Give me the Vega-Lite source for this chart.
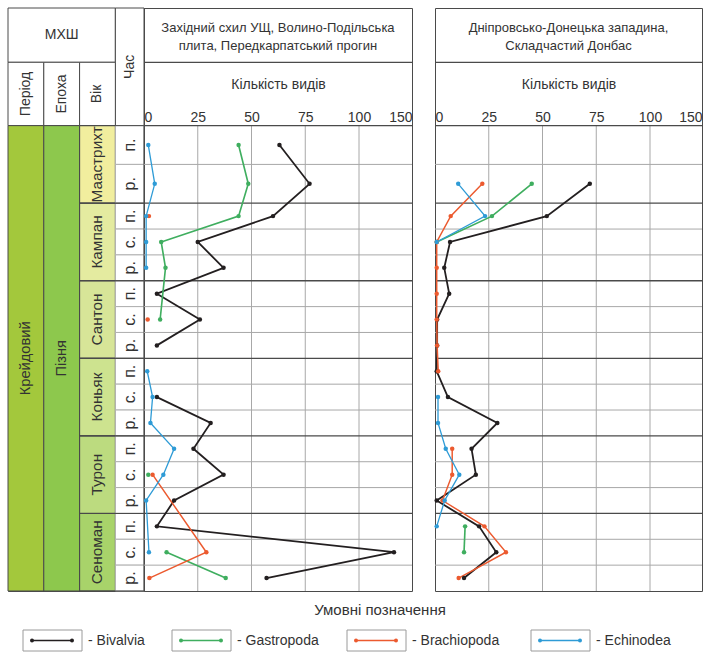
{
  "$schema": "https://vega.github.io/schema/vega-lite/v6.json",
  "padding": {"left": 7, "top": 7, "right": 0, "bottom": 0},
  "background": "white",
  "config": {
    "font": "Liberation Sans",
    "view": {"stroke": "#4a4a4a", "strokeWidth": 1}
  },
  "datasets": {
    "table": [
      {"kind": "hdr", "cell": "hdr", "x1": 0, "x2": 3, "y1": -9.1, "y2": -4.9, "label": "МХШ", "tx": 1.5, "ty": -7, "rot": 0},
      {"kind": "hdr", "cell": "hdr", "x1": 3, "x2": 3.8, "y1": -9.1, "y2": 0, "label": "Час", "tx": 3.4, "ty": -4.55, "rot": 1},
      {"kind": "hdr", "cell": "hdr", "x1": 0, "x2": 1, "y1": -4.9, "y2": 0, "label": "Період", "tx": 0.5, "ty": -2.45, "rot": 1},
      {"kind": "hdr", "cell": "hdr", "x1": 1, "x2": 2, "y1": -4.9, "y2": 0, "label": "Епоха", "tx": 1.5, "ty": -2.45, "rot": 1},
      {"kind": "hdr", "cell": "hdr", "x1": 2, "x2": 3, "y1": -4.9, "y2": 0, "label": "Вік", "tx": 2.5, "ty": -2.45, "rot": 1},
      {"kind": "body", "cell": "period", "x1": 0, "x2": 1, "y1": 0, "y2": 36, "label": "Крейдовий", "tx": 0.5, "ty": 18, "rot": 1},
      {"kind": "body", "cell": "epoch", "x1": 1, "x2": 2, "y1": 0, "y2": 36, "label": "Пізня", "tx": 1.5, "ty": 18, "rot": 1},
      {"kind": "age", "cell": "Маастрихт", "x1": 2, "x2": 3, "y1": 0, "y2": 6, "label": "Маастрихт", "tx": 2.5, "ty": 3, "rot": 1},
      {"kind": "age", "cell": "Кампан", "x1": 2, "x2": 3, "y1": 6, "y2": 12, "label": "Кампан", "tx": 2.5, "ty": 9, "rot": 1},
      {"kind": "age", "cell": "Сантон", "x1": 2, "x2": 3, "y1": 12, "y2": 18, "label": "Сантон", "tx": 2.5, "ty": 15, "rot": 1},
      {"kind": "age", "cell": "Коньяк", "x1": 2, "x2": 3, "y1": 18, "y2": 24, "label": "Коньяк", "tx": 2.5, "ty": 21, "rot": 1},
      {"kind": "age", "cell": "Турон", "x1": 2, "x2": 3, "y1": 24, "y2": 30, "label": "Турон", "tx": 2.5, "ty": 27, "rot": 1},
      {"kind": "age", "cell": "Сеноман", "x1": 2, "x2": 3, "y1": 30, "y2": 36, "label": "Сеноман", "tx": 2.5, "ty": 33, "rot": 1},
      {"kind": "time", "cell": "time", "x1": 3, "x2": 3.8, "y1": 0, "y2": 3, "label": "п.", "tx": 3.4, "ty": 1.5, "rot": 1},
      {"kind": "time", "cell": "time", "x1": 3, "x2": 3.8, "y1": 3, "y2": 6, "label": "р.", "tx": 3.4, "ty": 4.5, "rot": 1},
      {"kind": "time", "cell": "time", "x1": 3, "x2": 3.8, "y1": 6, "y2": 8, "label": "п.", "tx": 3.4, "ty": 7, "rot": 1},
      {"kind": "time", "cell": "time", "x1": 3, "x2": 3.8, "y1": 8, "y2": 10, "label": "с.", "tx": 3.4, "ty": 9, "rot": 1},
      {"kind": "time", "cell": "time", "x1": 3, "x2": 3.8, "y1": 10, "y2": 12, "label": "р.", "tx": 3.4, "ty": 11, "rot": 1},
      {"kind": "time", "cell": "time", "x1": 3, "x2": 3.8, "y1": 12, "y2": 14, "label": "п.", "tx": 3.4, "ty": 13, "rot": 1},
      {"kind": "time", "cell": "time", "x1": 3, "x2": 3.8, "y1": 14, "y2": 16, "label": "с.", "tx": 3.4, "ty": 15, "rot": 1},
      {"kind": "time", "cell": "time", "x1": 3, "x2": 3.8, "y1": 16, "y2": 18, "label": "р.", "tx": 3.4, "ty": 17, "rot": 1},
      {"kind": "time", "cell": "time", "x1": 3, "x2": 3.8, "y1": 18, "y2": 20, "label": "п.", "tx": 3.4, "ty": 19, "rot": 1},
      {"kind": "time", "cell": "time", "x1": 3, "x2": 3.8, "y1": 20, "y2": 22, "label": "с.", "tx": 3.4, "ty": 21, "rot": 1},
      {"kind": "time", "cell": "time", "x1": 3, "x2": 3.8, "y1": 22, "y2": 24, "label": "р.", "tx": 3.4, "ty": 23, "rot": 1},
      {"kind": "time", "cell": "time", "x1": 3, "x2": 3.8, "y1": 24, "y2": 26, "label": "п.", "tx": 3.4, "ty": 25, "rot": 1},
      {"kind": "time", "cell": "time", "x1": 3, "x2": 3.8, "y1": 26, "y2": 28, "label": "с.", "tx": 3.4, "ty": 27, "rot": 1},
      {"kind": "time", "cell": "time", "x1": 3, "x2": 3.8, "y1": 28, "y2": 30, "label": "р.", "tx": 3.4, "ty": 29, "rot": 1},
      {"kind": "time", "cell": "time", "x1": 3, "x2": 3.8, "y1": 30, "y2": 32, "label": "п.", "tx": 3.4, "ty": 31, "rot": 1},
      {"kind": "time", "cell": "time", "x1": 3, "x2": 3.8, "y1": 32, "y2": 34, "label": "с.", "tx": 3.4, "ty": 33, "rot": 1},
      {"kind": "time", "cell": "time", "x1": 3, "x2": 3.8, "y1": 34, "y2": 36, "label": "р.", "tx": 3.4, "ty": 35, "rot": 1}
    ],
    "hl": [
      {"y": -4.9, "k": "hdr"}, {"y": 0, "k": "stage"}, {"y": 6, "k": "stage"}, {"y": 12, "k": "stage"},
      {"y": 18, "k": "stage"}, {"y": 24, "k": "stage"}, {"y": 30, "k": "stage"},
      {"y": 3, "k": "sub"}, {"y": 8, "k": "sub"}, {"y": 10, "k": "sub"}, {"y": 14, "k": "sub"},
      {"y": 16, "k": "sub"}, {"y": 20, "k": "sub"}, {"y": 22, "k": "sub"}, {"y": 26, "k": "sub"},
      {"y": 28, "k": "sub"}, {"y": 32, "k": "sub"}, {"y": 34, "k": "sub"}
    ],
    "grid": [{"n": 25}, {"n": 50}, {"n": 75}, {"n": 100}],
    "series": [
      {"p": "W", "sp": "Bivalvia", "seg": "a", "pos": 1.5, "n": 63},
      {"p": "W", "sp": "Bivalvia", "seg": "a", "pos": 4.5, "n": 77},
      {"p": "W", "sp": "Bivalvia", "seg": "a", "pos": 7, "n": 60},
      {"p": "W", "sp": "Bivalvia", "seg": "a", "pos": 9, "n": 25},
      {"p": "W", "sp": "Bivalvia", "seg": "a", "pos": 11, "n": 37},
      {"p": "W", "sp": "Bivalvia", "seg": "a", "pos": 13, "n": 6},
      {"p": "W", "sp": "Bivalvia", "seg": "a", "pos": 15, "n": 26},
      {"p": "W", "sp": "Bivalvia", "seg": "a", "pos": 17, "n": 6},
      {"p": "W", "sp": "Bivalvia", "seg": "b", "pos": 21, "n": 6},
      {"p": "W", "sp": "Bivalvia", "seg": "b", "pos": 23, "n": 31},
      {"p": "W", "sp": "Bivalvia", "seg": "b", "pos": 25, "n": 23},
      {"p": "W", "sp": "Bivalvia", "seg": "b", "pos": 27, "n": 37},
      {"p": "W", "sp": "Bivalvia", "seg": "b", "pos": 29, "n": 14},
      {"p": "W", "sp": "Bivalvia", "seg": "b", "pos": 31, "n": 6},
      {"p": "W", "sp": "Bivalvia", "seg": "b", "pos": 33, "n": 133},
      {"p": "W", "sp": "Bivalvia", "seg": "b", "pos": 35, "n": 57},
      {"p": "W", "sp": "Gastropoda", "seg": "a", "pos": 1.5, "n": 44},
      {"p": "W", "sp": "Gastropoda", "seg": "a", "pos": 4.5, "n": 48.5},
      {"p": "W", "sp": "Gastropoda", "seg": "a", "pos": 7, "n": 44},
      {"p": "W", "sp": "Gastropoda", "seg": "a", "pos": 9, "n": 8},
      {"p": "W", "sp": "Gastropoda", "seg": "a", "pos": 11, "n": 10},
      {"p": "W", "sp": "Gastropoda", "seg": "a", "pos": 15, "n": 7.5},
      {"p": "W", "sp": "Gastropoda", "seg": "b", "pos": 27, "n": 2},
      {"p": "W", "sp": "Gastropoda", "seg": "c", "pos": 33, "n": 10.5},
      {"p": "W", "sp": "Gastropoda", "seg": "c", "pos": 35, "n": 38},
      {"p": "W", "sp": "Brachiopoda", "seg": "a", "pos": 7, "n": 2.3},
      {"p": "W", "sp": "Brachiopoda", "seg": "b", "pos": 15, "n": 1.7},
      {"p": "W", "sp": "Brachiopoda", "seg": "c", "pos": 27, "n": 4},
      {"p": "W", "sp": "Brachiopoda", "seg": "c", "pos": 33, "n": 29},
      {"p": "W", "sp": "Brachiopoda", "seg": "c", "pos": 35, "n": 2.5},
      {"p": "W", "sp": "Echinodea", "seg": "a", "pos": 1.5, "n": 2},
      {"p": "W", "sp": "Echinodea", "seg": "a", "pos": 4.5, "n": 5},
      {"p": "W", "sp": "Echinodea", "seg": "a", "pos": 7, "n": 1},
      {"p": "W", "sp": "Echinodea", "seg": "a", "pos": 9, "n": 1},
      {"p": "W", "sp": "Echinodea", "seg": "a", "pos": 11, "n": 1},
      {"p": "W", "sp": "Echinodea", "seg": "b", "pos": 19, "n": 1.5},
      {"p": "W", "sp": "Echinodea", "seg": "b", "pos": 21, "n": 4},
      {"p": "W", "sp": "Echinodea", "seg": "b", "pos": 23, "n": 3},
      {"p": "W", "sp": "Echinodea", "seg": "b", "pos": 25, "n": 14},
      {"p": "W", "sp": "Echinodea", "seg": "b", "pos": 27, "n": 9},
      {"p": "W", "sp": "Echinodea", "seg": "b", "pos": 29, "n": 1},
      {"p": "W", "sp": "Echinodea", "seg": "b", "pos": 33, "n": 2.3},
      {"p": "E", "sp": "Bivalvia", "seg": "a", "pos": 4.5, "n": 72},
      {"p": "E", "sp": "Bivalvia", "seg": "a", "pos": 7, "n": 52},
      {"p": "E", "sp": "Bivalvia", "seg": "a", "pos": 9, "n": 7},
      {"p": "E", "sp": "Bivalvia", "seg": "a", "pos": 11, "n": 4.3},
      {"p": "E", "sp": "Bivalvia", "seg": "a", "pos": 13, "n": 6.6},
      {"p": "E", "sp": "Bivalvia", "seg": "a", "pos": 15, "n": 1},
      {"p": "E", "sp": "Bivalvia", "seg": "a", "pos": 17, "n": 1},
      {"p": "E", "sp": "Bivalvia", "seg": "a", "pos": 19, "n": 0.8},
      {"p": "E", "sp": "Bivalvia", "seg": "a", "pos": 21, "n": 6},
      {"p": "E", "sp": "Bivalvia", "seg": "a", "pos": 23, "n": 29},
      {"p": "E", "sp": "Bivalvia", "seg": "a", "pos": 25, "n": 17},
      {"p": "E", "sp": "Bivalvia", "seg": "a", "pos": 27, "n": 19},
      {"p": "E", "sp": "Bivalvia", "seg": "a", "pos": 29, "n": 0.8},
      {"p": "E", "sp": "Bivalvia", "seg": "a", "pos": 31, "n": 20.5},
      {"p": "E", "sp": "Bivalvia", "seg": "a", "pos": 33, "n": 28.5},
      {"p": "E", "sp": "Bivalvia", "seg": "a", "pos": 35, "n": 13.5},
      {"p": "E", "sp": "Gastropoda", "seg": "a", "pos": 4.5, "n": 45},
      {"p": "E", "sp": "Gastropoda", "seg": "a", "pos": 7, "n": 26.5},
      {"p": "E", "sp": "Gastropoda", "seg": "a", "pos": 9, "n": 0.8},
      {"p": "E", "sp": "Gastropoda", "seg": "b", "pos": 31, "n": 14},
      {"p": "E", "sp": "Gastropoda", "seg": "b", "pos": 33, "n": 13.5},
      {"p": "E", "sp": "Brachiopoda", "seg": "a", "pos": 4.5, "n": 22},
      {"p": "E", "sp": "Brachiopoda", "seg": "a", "pos": 7, "n": 7.3},
      {"p": "E", "sp": "Brachiopoda", "seg": "a", "pos": 9, "n": 0.8},
      {"p": "E", "sp": "Brachiopoda", "seg": "a", "pos": 11, "n": 0.8},
      {"p": "E", "sp": "Brachiopoda", "seg": "a", "pos": 13, "n": 0.8},
      {"p": "E", "sp": "Brachiopoda", "seg": "a", "pos": 15, "n": 0.8},
      {"p": "E", "sp": "Brachiopoda", "seg": "a", "pos": 17, "n": 1},
      {"p": "E", "sp": "Brachiopoda", "seg": "a", "pos": 19, "n": 1.5},
      {"p": "E", "sp": "Brachiopoda", "seg": "b", "pos": 25, "n": 8},
      {"p": "E", "sp": "Brachiopoda", "seg": "b", "pos": 27, "n": 8},
      {"p": "E", "sp": "Brachiopoda", "seg": "b", "pos": 29, "n": 3.5},
      {"p": "E", "sp": "Brachiopoda", "seg": "b", "pos": 31, "n": 23},
      {"p": "E", "sp": "Brachiopoda", "seg": "b", "pos": 33, "n": 33},
      {"p": "E", "sp": "Brachiopoda", "seg": "b", "pos": 35, "n": 11},
      {"p": "E", "sp": "Echinodea", "seg": "a", "pos": 4.5, "n": 10.8},
      {"p": "E", "sp": "Echinodea", "seg": "a", "pos": 7, "n": 23.3},
      {"p": "E", "sp": "Echinodea", "seg": "a", "pos": 9, "n": 0.8},
      {"p": "E", "sp": "Echinodea", "seg": "b", "pos": 21, "n": 1.4},
      {"p": "E", "sp": "Echinodea", "seg": "b", "pos": 23, "n": 1.4},
      {"p": "E", "sp": "Echinodea", "seg": "b", "pos": 25, "n": 5},
      {"p": "E", "sp": "Echinodea", "seg": "b", "pos": 27, "n": 11.3},
      {"p": "E", "sp": "Echinodea", "seg": "b", "pos": 29, "n": 4.5},
      {"p": "E", "sp": "Echinodea", "seg": "b", "pos": 31, "n": 0.8}
    ],
    "leg": [
      {"i": 0, "sp": "Bivalvia", "lab": "- Bivalvia"},
      {"i": 1, "sp": "Gastropoda", "lab": "- Gastropoda"},
      {"i": 2, "sp": "Brachiopoda", "lab": "- Brachiopoda"},
      {"i": 3, "sp": "Echinodea", "lab": "- Echinodea"}
    ]
  },
  "vconcat": [
    {
      "hconcat": [
        {
          "hconcat": [
            {
              "width": 136,
              "height": 583,
              "data": {"name": "table"},
              "layer": [
                {
                  "transform": [{"filter": "datum.kind != 'time'"}],
                  "mark": {"type": "rect", "stroke": "#4a4a4a", "strokeWidth": 1},
                  "encoding": {
                    "x": {"field": "x1", "type": "quantitative", "scale": {"domain": [0, 3.8], "nice": false, "zero": false}, "axis": null},
                    "x2": {"field": "x2"},
                    "y": {"field": "y1", "type": "quantitative", "scale": {"domain": [-9.1, 36], "reverse": true, "nice": false, "zero": false}, "axis": null},
                    "y2": {"field": "y2"},
                    "fill": {"field": "cell", "type": "nominal", "legend": null,
                      "scale": {"domain": ["hdr", "period", "epoch", "Маастрихт", "Кампан", "Сантон", "Коньяк", "Турон", "Сеноман"],
                                "range": ["#ffffff", "#a3c83c", "#8dc84d", "#f1ee9e", "#e4eba0", "#d7e598", "#cde38f", "#bcdb7f", "#a8d36a"]}}
                  }
                },
                {
                  "transform": [{"filter": "datum.kind == 'time'"}],
                  "mark": {"type": "rect", "fill": "#ffffff", "stroke": "#b0b0b0", "strokeWidth": 1},
                  "encoding": {
                    "x": {"field": "x1", "type": "quantitative", "axis": null},
                    "x2": {"field": "x2"},
                    "y": {"field": "y1", "type": "quantitative", "axis": null},
                    "y2": {"field": "y2"}
                  }
                },
                {
                  "transform": [{"filter": "datum.kind == 'age'"}],
                  "mark": {"type": "rect", "fillOpacity": 0, "stroke": "#4a4a4a", "strokeWidth": 1},
                  "encoding": {
                    "x": {"datum": 2, "type": "quantitative", "axis": null},
                    "x2": {"datum": 3.8},
                    "y": {"field": "y1", "type": "quantitative", "axis": null},
                    "y2": {"field": "y2"}
                  }
                },
                {
                  "transform": [{"filter": "datum.rot == 0"}],
                  "mark": {"type": "text", "fontSize": 14, "fill": "#333333", "align": "center", "baseline": "middle"},
                  "encoding": {
                    "x": {"field": "tx", "type": "quantitative", "axis": null},
                    "y": {"field": "ty", "type": "quantitative", "axis": null},
                    "text": {"field": "label"}
                  }
                },
                {
                  "transform": [{"filter": "datum.rot == 1"}],
                  "mark": {"type": "text", "angle": 270, "fill": "#333333", "align": "center", "baseline": "middle"},
                  "encoding": {
                    "x": {"field": "tx", "type": "quantitative", "axis": null},
                    "y": {"field": "ty", "type": "quantitative", "axis": null},
                    "text": {"field": "label"},
                    "size": {"field": "kind", "type": "nominal", "legend": null,
                      "scale": {"domain": ["hdr", "body", "age", "time"], "range": [14, 16, 14.5, 11]}}
                  }
                }
              ]
            },
            {
              "width": 268,
              "height": 583,
              "layer": [
                {
                  "data": {"name": "hl"},
                  "transform": [{"filter": "datum.k == 'sub'"}],
                  "mark": {"type": "rule", "stroke": "#a8a8a8", "strokeWidth": 1},
                  "encoding": {
                    "y": {"field": "y", "type": "quantitative", "scale": {"domain": [-9.1, 36], "reverse": true, "nice": false, "zero": false}, "axis": null}
                  }
                },
                {
                  "data": {"name": "grid"},
                  "mark": {"type": "rule", "stroke": "#a8a8a8", "strokeWidth": 1},
                  "encoding": {
                    "x": {"field": "n", "type": "quantitative",
                      "scale": {"domain": [0, 100, 150], "range": [0, 215, 268], "nice": false, "zero": false},
                      "axis": {"orient": "top", "offset": -118, "values": [0, 25, 50, 75, 100, 150], "domain": false, "ticks": false, "grid": false, "labelFlush": true, "labelFontSize": 14, "labelColor": "#333333", "labelPadding": 2, "format": "d", "title": "Кількість видів", "titleFontSize": 14, "titleFontWeight": "normal", "titleColor": "#333333", "titlePadding": 19}},
                    "y": {"datum": 0, "type": "quantitative", "axis": null},
                    "y2": {"datum": 36}
                  }
                },
                {
                  "data": {"name": "hl"},
                  "transform": [{"filter": "datum.k != 'sub'"}],
                  "mark": {"type": "rule", "stroke": "#4a4a4a", "strokeWidth": 1.3},
                  "encoding": {
                    "y": {"field": "y", "type": "quantitative", "axis": null}
                  }
                },
                {
                  "data": {"values": [{"t": "Західний схил УЩ, Волино-Подільська\nплита, Передкарпатський прогин"}]},
                  "mark": {"type": "text", "fontSize": 13, "lineBreak": "\n", "lineHeight": 18, "fill": "#333333", "align": "center", "baseline": "middle"},
                  "encoding": {
                    "x": {"datum": 62.3, "type": "quantitative",
                      "axis": {"orient": "top", "offset": -118, "values": [0, 25, 50, 75, 100, 150], "domain": false, "ticks": false, "grid": false, "labelFlush": true, "labelFontSize": 14, "labelColor": "#333333", "labelPadding": 2, "format": "d", "title": "Кількість видів", "titleFontSize": 14, "titleFontWeight": "normal", "titleColor": "#333333", "titlePadding": 19}},
                    "y": {"datum": -7.55, "type": "quantitative", "axis": null},
                    "text": {"field": "t"}
                  }
                },
                {
                  "data": {"name": "series"},
                  "transform": [{"filter": "datum.p == 'W'"}],
                  "mark": {"type": "line"},
                  "encoding": {
                    "x": {"field": "n", "type": "quantitative",
                      "axis": {"orient": "top", "offset": -118, "values": [0, 25, 50, 75, 100, 150], "domain": false, "ticks": false, "grid": false, "labelFlush": true, "labelFontSize": 14, "labelColor": "#333333", "labelPadding": 2, "format": "d", "title": "Кількість видів", "titleFontSize": 14, "titleFontWeight": "normal", "titleColor": "#333333", "titlePadding": 19}},
                    "y": {"field": "pos", "type": "quantitative", "axis": null},
                    "order": {"field": "pos", "type": "quantitative"},
                    "detail": {"field": "seg", "type": "nominal"},
                    "color": {"field": "sp", "type": "nominal", "legend": null,
                      "scale": {"domain": ["Bivalvia", "Gastropoda", "Brachiopoda", "Echinodea"], "range": ["#231f20", "#3fae5f", "#ec5a2f", "#2e9bd6"]}},
                    "strokeWidth": {"field": "sp", "type": "nominal", "legend": null,
                      "scale": {"domain": ["Bivalvia", "Gastropoda", "Brachiopoda", "Echinodea"], "range": [1.8, 1.3, 1.3, 1.3]}}
                  }
                },
                {
                  "data": {"name": "series"},
                  "transform": [{"filter": "datum.p == 'W'"}],
                  "mark": {"type": "circle", "size": 20, "opacity": 1},
                  "encoding": {
                    "x": {"field": "n", "type": "quantitative",
                      "axis": {"orient": "top", "offset": -118, "values": [0, 25, 50, 75, 100, 150], "domain": false, "ticks": false, "grid": false, "labelFlush": true, "labelFontSize": 14, "labelColor": "#333333", "labelPadding": 2, "format": "d", "title": "Кількість видів", "titleFontSize": 14, "titleFontWeight": "normal", "titleColor": "#333333", "titlePadding": 19}},
                    "y": {"field": "pos", "type": "quantitative", "axis": null},
                    "color": {"field": "sp", "type": "nominal", "legend": null}
                  }
                }
              ]
            }
          ],
          "spacing": 0,
          "bounds": "flush",
          "resolve": {"scale": {"x": "independent", "y": "independent"}}
        },
        {
          "width": 267,
          "height": 583,
          "layer": [
            {
              "data": {"name": "hl"},
              "transform": [{"filter": "datum.k == 'sub'"}],
              "mark": {"type": "rule", "stroke": "#a8a8a8", "strokeWidth": 1},
              "encoding": {
                "y": {"field": "y", "type": "quantitative", "scale": {"domain": [-9.1, 36], "reverse": true, "nice": false, "zero": false}, "axis": null}
              }
            },
            {
              "data": {"name": "grid"},
              "mark": {"type": "rule", "stroke": "#a8a8a8", "strokeWidth": 1},
              "encoding": {
                "x": {"field": "n", "type": "quantitative",
                  "scale": {"domain": [0, 100, 150], "range": [0, 215, 267], "nice": false, "zero": false},
                  "axis": {"orient": "top", "offset": -118, "values": [0, 25, 50, 75, 100, 150], "domain": false, "ticks": false, "grid": false, "labelFlush": true, "labelFontSize": 14, "labelColor": "#333333", "labelPadding": 2, "format": "d", "title": "Кількість видів", "titleFontSize": 14, "titleFontWeight": "normal", "titleColor": "#333333", "titlePadding": 19}},
                "y": {"datum": 0, "type": "quantitative", "axis": null},
                "y2": {"datum": 36}
              }
            },
            {
              "data": {"name": "hl"},
              "transform": [{"filter": "datum.k != 'sub'"}],
              "mark": {"type": "rule", "stroke": "#4a4a4a", "strokeWidth": 1.3},
              "encoding": {
                "y": {"field": "y", "type": "quantitative", "axis": null}
              }
            },
            {
              "data": {"values": [{"t": "Дніпровсько-Донецька западина,\nСкладчастий Донбас"}]},
              "mark": {"type": "text", "fontSize": 13, "lineBreak": "\n", "lineHeight": 18, "fill": "#333333", "align": "center", "baseline": "middle"},
              "encoding": {
                "x": {"datum": 62.1, "type": "quantitative",
                  "axis": {"orient": "top", "offset": -118, "values": [0, 25, 50, 75, 100, 150], "domain": false, "ticks": false, "grid": false, "labelFlush": true, "labelFontSize": 14, "labelColor": "#333333", "labelPadding": 2, "format": "d", "title": "Кількість видів", "titleFontSize": 14, "titleFontWeight": "normal", "titleColor": "#333333", "titlePadding": 19}},
                "y": {"datum": -7.55, "type": "quantitative", "axis": null},
                "text": {"field": "t"}
              }
            },
            {
              "data": {"name": "series"},
              "transform": [{"filter": "datum.p == 'E'"}],
              "mark": {"type": "line"},
              "encoding": {
                "x": {"field": "n", "type": "quantitative",
                  "axis": {"orient": "top", "offset": -118, "values": [0, 25, 50, 75, 100, 150], "domain": false, "ticks": false, "grid": false, "labelFlush": true, "labelFontSize": 14, "labelColor": "#333333", "labelPadding": 2, "format": "d", "title": "Кількість видів", "titleFontSize": 14, "titleFontWeight": "normal", "titleColor": "#333333", "titlePadding": 19}},
                "y": {"field": "pos", "type": "quantitative", "axis": null},
                "order": {"field": "pos", "type": "quantitative"},
                "detail": {"field": "seg", "type": "nominal"},
                "color": {"field": "sp", "type": "nominal", "legend": null,
                  "scale": {"domain": ["Bivalvia", "Gastropoda", "Brachiopoda", "Echinodea"], "range": ["#231f20", "#3fae5f", "#ec5a2f", "#2e9bd6"]}},
                "strokeWidth": {"field": "sp", "type": "nominal", "legend": null,
                  "scale": {"domain": ["Bivalvia", "Gastropoda", "Brachiopoda", "Echinodea"], "range": [1.8, 1.3, 1.3, 1.3]}}
              }
            },
            {
              "data": {"name": "series"},
              "transform": [{"filter": "datum.p == 'E'"}],
              "mark": {"type": "circle", "size": 20, "opacity": 1},
              "encoding": {
                "x": {"field": "n", "type": "quantitative",
                  "axis": {"orient": "top", "offset": -118, "values": [0, 25, 50, 75, 100, 150], "domain": false, "ticks": false, "grid": false, "labelFlush": true, "labelFontSize": 14, "labelColor": "#333333", "labelPadding": 2, "format": "d", "title": "Кількість видів", "titleFontSize": 14, "titleFontWeight": "normal", "titleColor": "#333333", "titlePadding": 19}},
                "y": {"field": "pos", "type": "quantitative", "axis": null},
                "color": {"field": "sp", "type": "nominal", "legend": null}
              }
            }
          ]
        }
      ],
      "spacing": 18,
      "resolve": {"scale": {"x": "independent", "y": "independent"}}
    },
    {
      "width": 690,
      "height": 21,
      "view": {"stroke": null},
      "title": {"text": "Умовні позначення", "fontSize": 15, "fontWeight": "normal", "color": "#333333", "offset": 12, "dx": 27, "anchor": "middle"},
      "data": {"name": "leg"},
      "layer": [
        {
          "mark": {"type": "rect", "fill": "#ffffff", "stroke": "#9a9a9a", "strokeWidth": 1, "x2Offset": 59},
          "encoding": {
            "x": {"field": "i", "type": "quantitative", "scale": {"domain": [0, 1, 2, 3], "range": [15, 164, 339, 523], "nice": false, "zero": false}, "axis": null},
            "x2": {"field": "i"},
            "y": {"datum": 0, "type": "quantitative", "scale": {"domain": [0, 1], "nice": false}, "axis": null},
            "y2": {"datum": 1}
          }
        },
        {
          "mark": {"type": "rule", "xOffset": 9, "x2Offset": 49, "strokeWidth": 1.4},
          "encoding": {
            "x": {"field": "i", "type": "quantitative", "axis": null},
            "x2": {"field": "i"},
            "y": {"datum": 0.5, "type": "quantitative", "axis": null},
            "color": {"field": "sp", "type": "nominal", "legend": null}
          }
        },
        {
          "mark": {"type": "circle", "xOffset": 9, "size": 16, "opacity": 1},
          "encoding": {
            "x": {"field": "i", "type": "quantitative", "axis": null},
            "y": {"datum": 0.5, "type": "quantitative", "axis": null},
            "color": {"field": "sp", "type": "nominal", "legend": null}
          }
        },
        {
          "mark": {"type": "circle", "xOffset": 49, "size": 16, "opacity": 1},
          "encoding": {
            "x": {"field": "i", "type": "quantitative", "axis": null},
            "y": {"datum": 0.5, "type": "quantitative", "axis": null},
            "color": {"field": "sp", "type": "nominal", "legend": null}
          }
        },
        {
          "mark": {"type": "text", "xOffset": 65, "align": "left", "baseline": "middle", "fontSize": 14, "fill": "#333333"},
          "encoding": {
            "x": {"field": "i", "type": "quantitative", "axis": null},
            "y": {"datum": 0.5, "type": "quantitative", "axis": null},
            "text": {"field": "lab"}
          }
        }
      ]
    }
  ],
  "spacing": 10,
  "resolve": {"scale": {"x": "independent", "y": "independent"}}
}
